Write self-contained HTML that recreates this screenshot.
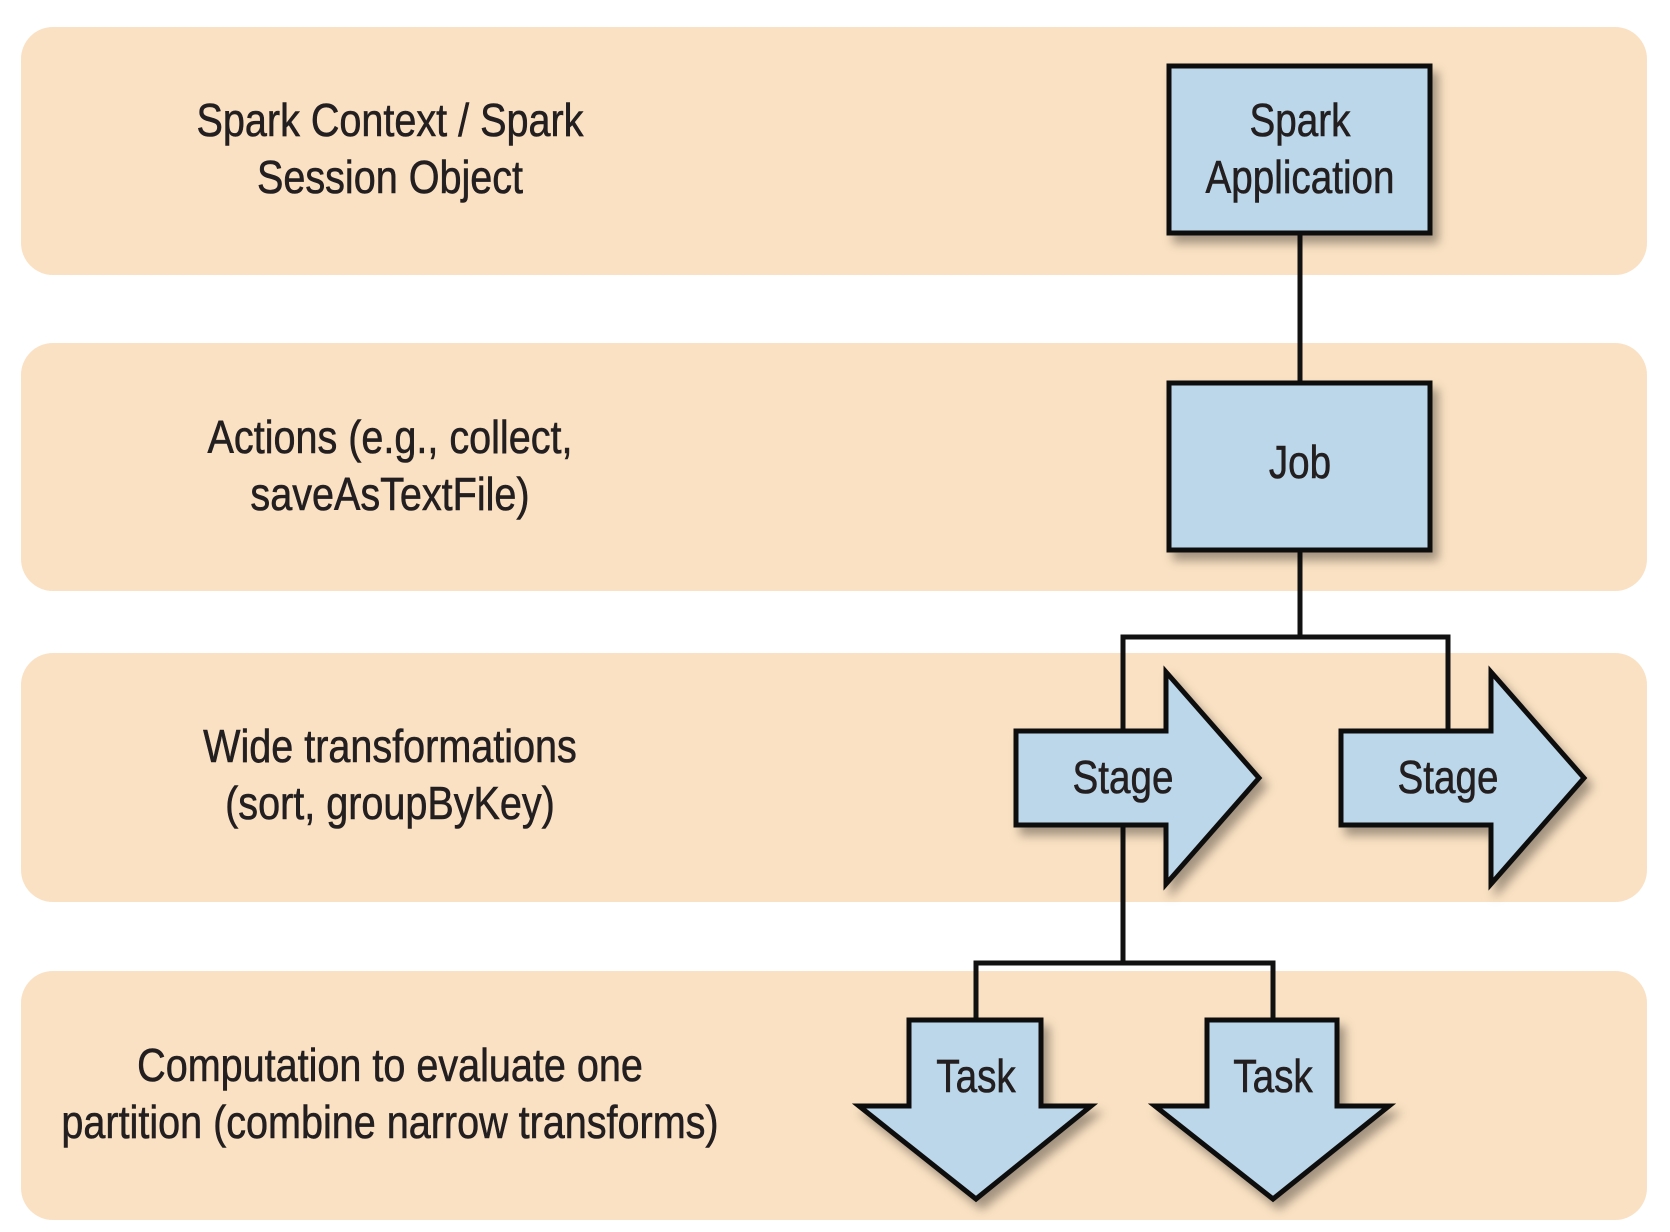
<!DOCTYPE html>
<html><head><meta charset="utf-8"><style>
html,body{margin:0;padding:0;background:#fff}
svg{display:block}
text{font-family:"Liberation Sans",sans-serif;font-size:46px;fill:#231f20;stroke:#231f20;stroke-width:0.6}
</style></head><body>
<svg width="1670" height="1232" viewBox="0 0 1670 1232" xmlns="http://www.w3.org/2000/svg">
<defs>
<filter id="sh" x="-20%" y="-20%" width="150%" height="150%">
<feDropShadow dx="6" dy="8" stdDeviation="5" flood-color="#000" flood-opacity="0.35"/>
</filter>
</defs>
<g fill="#fae1c3">
<rect x="21" y="27" width="1626" height="248" rx="32"/>
<rect x="21" y="343" width="1626" height="248" rx="32"/>
<rect x="21" y="653" width="1626" height="249" rx="32"/>
<rect x="21" y="971" width="1626" height="249" rx="32"/>
</g>
<g transform="translate(-6,0)">
<g stroke="#111" stroke-width="5" fill="none">
<line x1="1306" y1="233" x2="1306" y2="383"/>
<polyline points="1306,550 1306,637"/>
<polyline points="1129,731 1129,637 1454,637 1454,731"/>
<polyline points="1129,825 1129,963"/>
<polyline points="982,1020 982,963 1279,963 1279,1020"/>
</g>
<g fill="#bdd7ea" stroke="#111" stroke-width="5" stroke-linejoin="miter" filter="url(#sh)">
<rect x="1175" y="66" width="261" height="167"/>
<rect x="1175" y="383" width="261" height="167"/>
<polygon points="1022,731 1172,731 1172,672 1265,778 1172,884 1172,825 1022,825"/>
<polygon points="1347,731 1497,731 1497,672 1590,778 1497,884 1497,825 1347,825"/>
<polygon points="915,1020 1047,1020 1047,1106 1097,1106 982,1199 865,1106 915,1106"/>
<polygon points="1213,1020 1343,1020 1343,1106 1395,1106 1279,1199 1161,1106 1213,1106"/>
</g>
<g text-anchor="middle">
<g transform="translate(1306,0) scale(0.84,1)"><text x="0" y="136">Spark</text><text x="0" y="193">Application</text></g>
<g transform="translate(1306,0) scale(0.84,1)"><text x="0" y="478">Job</text></g>
<g transform="translate(1129,0) scale(0.84,1)"><text x="0" y="793">Stage</text></g>
<g transform="translate(1454,0) scale(0.84,1)"><text x="0" y="793">Stage</text></g>
<g transform="translate(982,0) scale(0.84,1)"><text x="0" y="1092">Task</text></g>
<g transform="translate(1279,0) scale(0.84,1)"><text x="0" y="1092">Task</text></g>
</g>
</g>
<g text-anchor="middle">
<g transform="translate(390,0) scale(0.86,1)"><text x="0" y="136">Spark Context / Spark</text><text x="0" y="193">Session Object</text></g>
<g transform="translate(390,0) scale(0.86,1)"><text x="0" y="453">Actions (e.g., collect,</text><text x="0" y="510">saveAsTextFile)</text></g>
<g transform="translate(390,0) scale(0.86,1)"><text x="0" y="762">Wide transformations</text><text x="0" y="819">(sort, groupByKey)</text></g>
<g transform="translate(390,0) scale(0.86,1)"><text x="0" y="1081">Computation to evaluate one</text><text x="0" y="1138">partition (combine narrow transforms)</text></g>
</g>
</svg>
</body></html>
